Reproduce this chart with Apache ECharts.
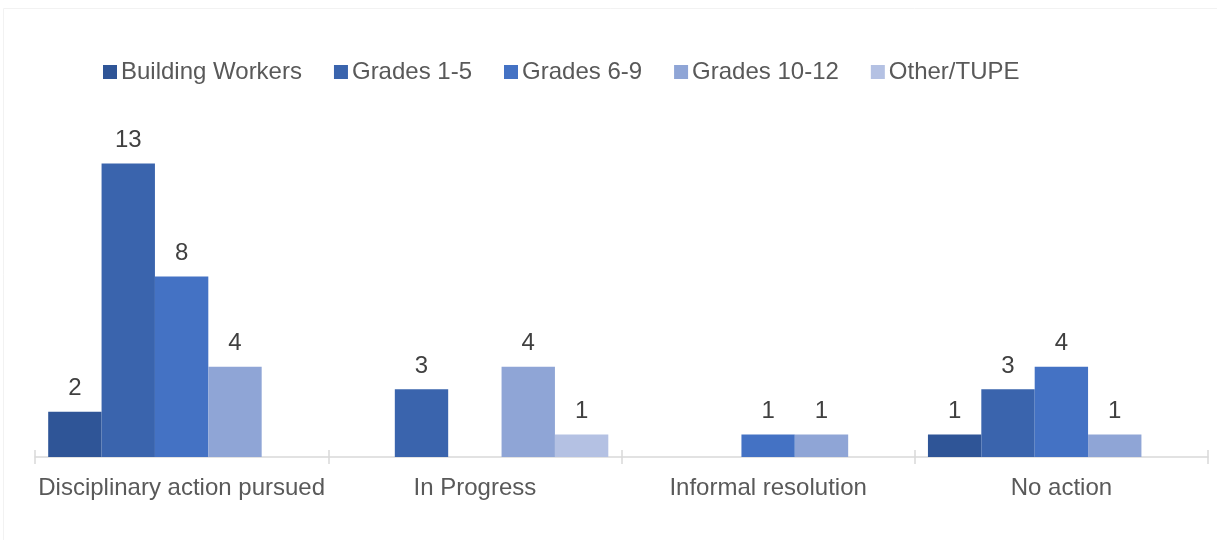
<!DOCTYPE html>
<html>
<head>
<meta charset="utf-8">
<script src="https://cdn.jsdelivr.net/npm/echarts@6/dist/echarts.min.js"></script>
<style>
  html, body { margin: 0; padding: 0; background: #ffffff; }
  #chart { width: 1217px; height: 540px; }
</style>
</head>
<body>
<div id="chart"></div>
<script>
// Outcomes by staff group
const categories = ['Disciplinary action pursued', 'In Progress', 'Informal resolution', 'No action'];
const seriesNames = ['Building Workers', 'Grades 1-5', 'Grades 6-9', 'Grades 10-12', 'Other/TUPE'];
const buildingWorkers = [2, null, null, 1];
const grades1to5 = [13, 3, null, 3];
const grades6to9 = [8, null, 1, 4];
const grades10to12 = [4, 4, 1, 1];
const otherTupe = [null, 1, null, null];

const values = [buildingWorkers, grades1to5, grades6to9, grades10to12, otherTupe];
const colors = ['#2F5597', '#3A64AD', '#4472C4', '#8FA5D6', '#B4C1E3'];
const fontFamily = '"Liberation Sans", Arial, sans-serif';
const textColor = '#595959';

const chart = echarts.init(document.getElementById('chart'), null, { renderer: 'canvas' });

const series = seriesNames.map((name, i) => ({
  name: name,
  type: 'bar',
  data: values[i],
  barGap: '0%',
  barCategoryGap: '9%',
  itemStyle: { color: colors[i] },
  label: {
    show: true,
    position: 'top',
    distance: 11,
    color: '#404040',
    fontSize: 24,
    fontFamily: fontFamily
  }
}));

chart.setOption({
  backgroundColor: '#ffffff',
  animation: false,
  graphic: [{
    type: 'rect',
    shape: { x: 3.5, y: 8.5, width: 1220, height: 540 },
    style: { fill: 'none', stroke: '#F2F2F2', lineWidth: 1 },
    silent: true
  }],
  color: colors,
  legend: {
    left: 103,
    top: 60,
    padding: 0,
    itemWidth: 14,
    itemHeight: 14,
    itemGap: 32,
    icon: 'rect',
    textStyle: { color: textColor, fontSize: 24, fontFamily: fontFamily, padding: [0, 0, 0, -1] },
    data: seriesNames
  },
  grid: { left: 35, right: 9, top: 141, bottom: 83, containLabel: false },
  xAxis: [{
    type: 'category',
    data: categories,
    position: 'bottom',
    axisLine: { show: true, lineStyle: { color: '#D9D9D9', width: 1.5 } },
    axisTick: { show: true, length: 7, alignWithLabel: false, lineStyle: { color: '#D9D9D9', width: 1.5 } },
    axisLabel: { color: textColor, fontSize: 24, fontFamily: fontFamily, margin: 19, interval: 0 }
  }, {
    type: 'category',
    data: categories,
    position: 'bottom',
    axisLine: { show: false },
    axisTick: { show: true, inside: true, length: 7, lineStyle: { color: '#D9D9D9', width: 1.5 } },
    axisLabel: { show: false }
  }],
  yAxis: {
    type: 'value',
    min: 0,
    max: 14,
    interval: 2,
    show: false,
    splitLine: { show: false }
  },
  series: series
});
</script>
</body>
</html>
